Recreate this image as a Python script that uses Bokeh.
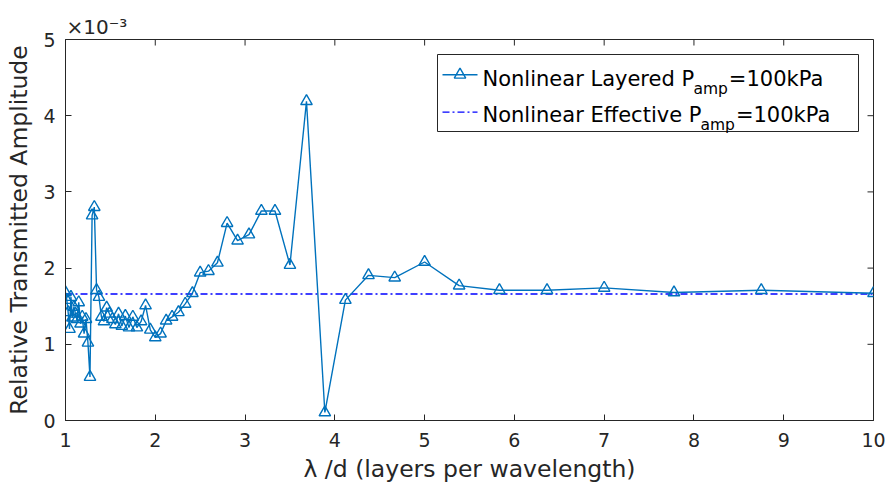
from bokeh.plotting import figure
from bokeh.models import Range1d, FixedTicker, Label, BoxAnnotation, Title
from bokeh.embed import file_html
from bokeh.resources import INLINE

# ---------------- data (amplitude in units of 1e-3) ----------------
lam_d = [1.0, 1.0145, 1.0294, 1.0448, 1.0606, 1.0769, 1.0938, 1.1111, 1.1290, 1.1475,
         1.1667, 1.1864, 1.2069, 1.2281, 1.25, 1.2727, 1.2963, 1.3208, 1.3462, 1.3725,
         1.4, 1.4286, 1.4583, 1.4894, 1.5217, 1.5556, 1.5909, 1.6279, 1.6667, 1.7073,
         1.75, 1.7949, 1.8421, 1.8919, 1.9444, 2.0, 2.0588, 2.1212, 2.1875, 2.2581,
         2.3333, 2.4138, 2.5, 2.5926, 2.6923, 2.8, 2.9167, 3.0435, 3.1818, 3.3333,
         3.5, 3.6842, 3.8889, 4.1176, 4.375, 4.6667, 5.0, 5.3846, 5.8333, 6.3636,
         7.0, 7.7778, 8.75, 10.0]
layered_amp = [1.68, 1.58, 1.42, 1.20, 1.62, 1.35, 1.49, 1.40, 1.33, 1.55,
               1.27, 1.36, 1.14, 1.33, 1.02, 0.57, 2.69, 2.80, 1.71, 1.62,
               1.36, 1.30, 1.48, 1.40, 1.33, 1.26, 1.40, 1.24, 1.37, 1.22,
               1.36, 1.22, 1.30, 1.51, 1.19, 1.09, 1.14, 1.31, 1.36, 1.42,
               1.53, 1.67, 1.94, 1.96, 2.07, 2.59, 2.36, 2.44, 2.75, 2.75,
               2.04, 4.19, 0.105, 1.58, 1.905, 1.875, 2.08, 1.77, 1.71, 1.71,
               1.74, 1.68, 1.71, 1.67]
effective_x = [1.0, 10.0]
effective_amp = [1.66, 1.66]

x_ticks = [1, 2, 3, 4, 5, 6, 7, 8, 9, 10]
y_ticks = [0, 1, 2, 3, 4, 5]
series_labels = ["Nonlinear Layered P", "Nonlinear Effective P"]
sub_label = "amp"
suffix_label = "=100kPa"
exponent_label = "×10⁻³"

# ---------------- layout ----------------
W, H = 891, 489
FL, FR, FT, FB = 65, 873, 39, 420
XMIN, XMAX, YMIN, YMAX = 1, 10, 0, 5
INK = "#262626"
FONT = "DejaVu Sans"
C1 = "#0072BD"
C2 = "#0000FF"
TICK = 6


def px2x(px):
    return XMIN + (px - FL) / (FR - FL) * (XMAX - XMIN)


def py2y(py):
    return YMIN + (FB - py) / (FB - FT) * (YMAX - YMIN)


p = figure(width=W, height=H, output_backend="svg", toolbar_location=None,
           x_range=Range1d(XMIN, XMAX), y_range=Range1d(YMIN, YMAX),
           min_border_left=FL, min_border_right=W - FR,
           min_border_top=FT, min_border_bottom=H - FB,
           background_fill_color="white", border_fill_color="white")
p.grid.visible = False
p.outline_line_color = INK
p.outline_line_width = 1

for ax in (p.xaxis[0], p.yaxis[0]):
    ax.axis_line_color = INK
    ax.major_tick_line_color = INK
    ax.major_tick_in = TICK
    ax.major_tick_out = 0
    ax.minor_tick_line_color = None
    ax.major_label_text_font = FONT
    ax.major_label_text_font_size = "19px"
    ax.major_label_text_color = INK
    ax.axis_label_text_font = FONT
    ax.axis_label_text_font_size = "23.5px"
    ax.axis_label_text_font_style = "normal"
    ax.axis_label_text_color = INK

p.xaxis[0].ticker = FixedTicker(ticks=x_ticks)
p.yaxis[0].ticker = FixedTicker(ticks=y_ticks)
p.xaxis[0].axis_label = "λ /d (layers per wavelength)"
p.yaxis[0].axis_label = "Relative Transmitted Amplitude"
p.xaxis[0].major_label_standoff = 12
p.yaxis[0].major_label_standoff = 10
p.xaxis[0].axis_label_standoff = 5
p.yaxis[0].axis_label_standoff = 7

# exponent shown above the frame
t = Title(text=exponent_label, align="left", offset=1, standoff=2,
          text_font=FONT, text_font_size="20px", text_font_style="normal",
          text_color=INK)
p.add_layout(t, "above")

# mirrored ticks on top and right (inside the box)
dy = TICK / (FB - FT) * (YMAX - YMIN)
dx = TICK / (FR - FL) * (XMAX - XMIN)
p.segment(x0=x_ticks, y0=[YMAX] * len(x_ticks), x1=x_ticks, y1=[YMAX - dy] * len(x_ticks),
          line_color=INK, line_width=1)
p.segment(x0=[XMAX] * len(y_ticks), y0=y_ticks, x1=[XMAX - dx] * len(y_ticks), y1=y_ticks,
          line_color=INK, line_width=1)

# ---------------- series ----------------
p.line(effective_x, effective_amp, line_color=C2, line_width=1.3, line_dash="7 3 2 3")
p.line(lam_d, layered_amp, line_color=C1, line_width=1.4)
p.scatter(lam_d, layered_amp, marker="triangle", size=11.5, fill_color=None,
          line_color=C1, line_width=1.4)

# ---------------- legend (manual, for subscripts) ----------------
p.add_layout(BoxAnnotation(left=px2x(437), right=px2x(858), top=py2y(54), bottom=py2y(131),
                           fill_color="white", fill_alpha=1.0, line_color=INK,
                           line_alpha=1.0, line_width=1, level="underlay"))

LFS = 21.0
SFS = 15.5
row_base = [78.5, 114.5]
row_line = [74.3, 111.7]
row_em = [10.1, 10.44]
for i, lab in enumerate(series_labels):
    tx = 482
    p.add_layout(Label(x=px2x(tx), y=py2y(row_base[i]), text=lab, text_font=FONT,
                       text_font_size=f"{LFS}px", text_color="black",
                       text_align="left", text_baseline="alphabetic"))
    sx = tx + row_em[i] * LFS * 0.985 + 2
    p.add_layout(Label(x=px2x(sx), y=py2y(row_base[i] + 10), text=sub_label, text_font=FONT,
                       text_font_size=f"{SFS}px", text_color="black",
                       text_align="left", text_baseline="alphabetic"))
    ex = sx + 2.222 * SFS + 1
    p.add_layout(Label(x=px2x(ex), y=py2y(row_base[i]), text=suffix_label, text_font=FONT,
                       text_font_size=f"{LFS}px", text_color="black",
                       text_align="left", text_baseline="alphabetic"))

leg_x = [px2x(442), px2x(477)]
p.line(leg_x, [py2y(row_line[0])] * 2, line_color=C1, line_width=1.4)
p.scatter([px2x(459.5)], [py2y(row_line[0])], marker="triangle", size=11.5, fill_color=None,
          line_color=C1, line_width=1.4)
p.line(leg_x, [py2y(row_line[1])] * 2, line_color=C2, line_width=1.3, line_dash="7 3 2 3")

open("out.html", "w").write(file_html(p, INLINE))
